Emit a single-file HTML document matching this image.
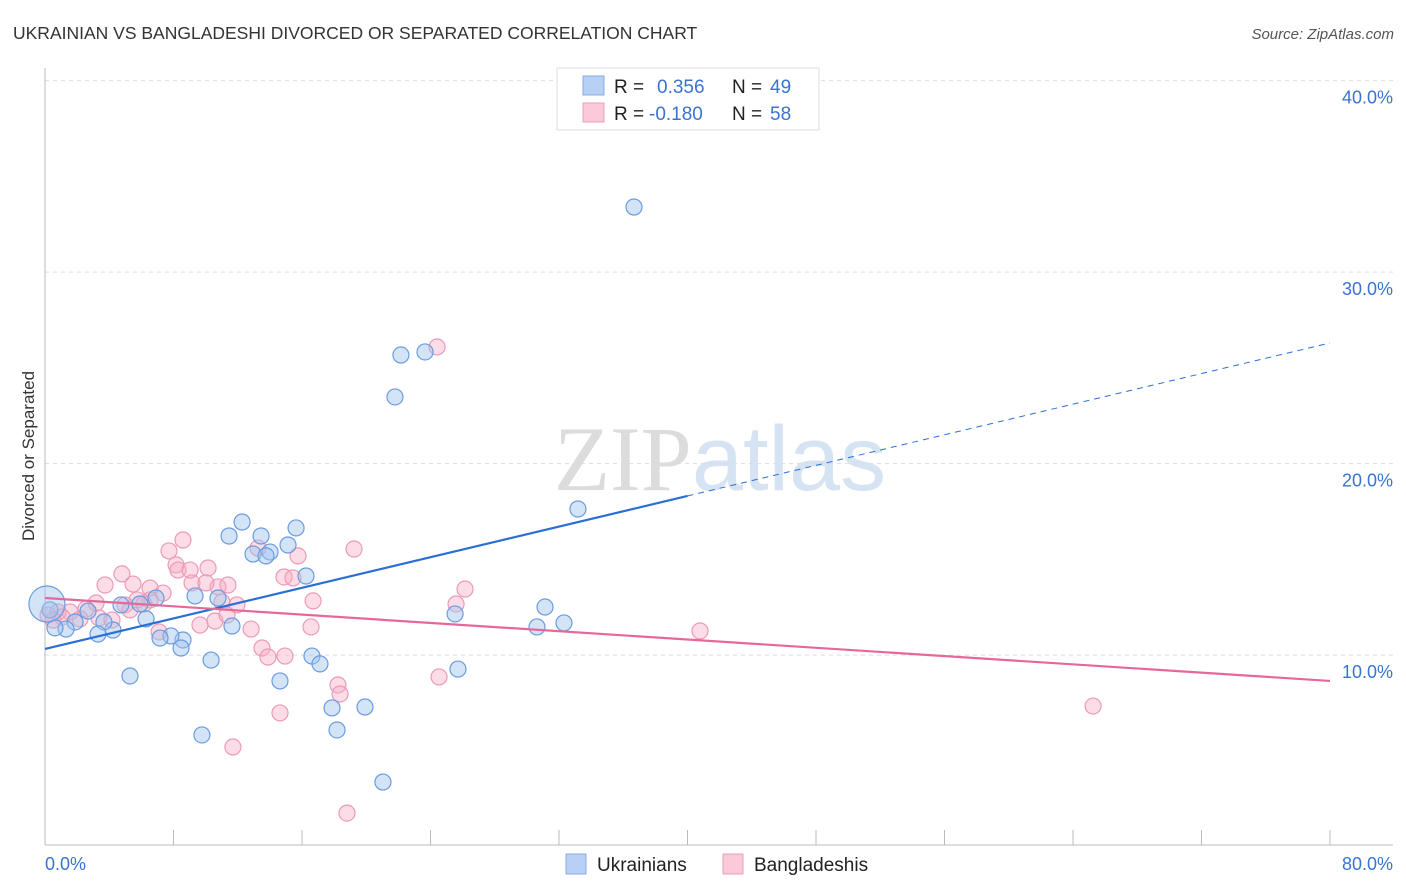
<!DOCTYPE html>
<html><head><meta charset="utf-8"><style>
body{margin:0;background:#fff;font-family:"Liberation Sans",sans-serif}
svg{display:block}
</style></head><body>
<svg id="chart" width="1406" height="892" viewBox="0 0 1406 892" xmlns="http://www.w3.org/2000/svg" font-family="Liberation Sans, sans-serif">
<text x="13" y="39" font-size="17.5" fill="#333">UKRAINIAN VS BANGLADESHI DIVORCED OR SEPARATED CORRELATION CHART</text>
<text x="1394" y="39" font-size="15" font-style="italic" fill="#555" text-anchor="end">Source: ZipAtlas.com</text>
<text x="720" y="490" font-size="92" text-anchor="middle" fill="#e4e8ee"><tspan font-family="Liberation Serif, serif" fill="#dcdcdc">ZIP</tspan><tspan fill="#d6e3f3">atlas</tspan></text>
<text transform="translate(34,456) rotate(-90)" font-size="17" fill="#333" text-anchor="middle">Divorced or Separated</text>
<g id="grid"></g>
<g id="axes"></g>
<g id="marks"></g>
<g id="trends"></g>
<g>
<rect x="557" y="68" width="262" height="62" fill="#fff" stroke="#ddd"/>
<rect x="583" y="76" width="21" height="19" fill="#b7d0f4" stroke="#86aee6"/>
<rect x="583" y="103" width="21" height="19" fill="#fbc9d8" stroke="#ee9fb9"/>
<text x="614" y="93" font-size="19" fill="#222">R = </text><text x="657" y="93" font-size="19" fill="#3a73d0">0.356</text>
<text x="732" y="93" font-size="19" fill="#222">N = </text><text x="770" y="93" font-size="19" fill="#3a73d0">49</text>
<text x="614" y="120" font-size="19" fill="#222">R = </text><text x="649" y="120" font-size="19" fill="#3a73d0">-0.180</text>
<text x="732" y="120" font-size="19" fill="#222">N = </text><text x="770" y="120" font-size="19" fill="#3a73d0">58</text>
</g>
<g>
<rect x="566" y="854" width="20" height="20" fill="#b7d0f4" stroke="#86aee6"/>
<text x="597" y="871" font-size="19" fill="#222">Ukrainians</text>
<rect x="723" y="854" width="20" height="20" fill="#fbc9d8" stroke="#ee9fb9"/>
<text x="754" y="871" font-size="19" fill="#222">Bangladeshis</text>
</g>
</svg>
<script>
const yTicks=[10,20,30,40];
const yTickLabels=["10.0%","20.0%","30.0%","40.0%"];
const xTicks=[0,8,16,24,32,40,48,56,64,72,80];
const xEndLabels=["0.0%","80.0%"];
const blueX=[36.67,22.16,23.66,21.79,33.18,12.27,15.63,13.45,11.46,15.13,14.01,12.95,13.76,16.25,31.13,32.31,30.63,25.53,25.71,16.62,17.12,14.63,17.87,19.92,18.18,21.04,9.77,10.34,5.29,9.34,10.77,11.64,8.59,8.47,7.84,7.16,6.91,6.29,5.91,4.73,4.23,3.67,3.30,2.68,1.87,1.31,0.62,0.31,0.12];
const blueY=[33.40,25.67,25.83,23.48,17.63,16.95,16.64,16.22,16.22,15.75,15.38,15.28,15.18,14.13,12.51,11.68,11.47,12.15,9.27,9.95,9.54,8.65,7.24,7.29,6.09,3.37,5.83,9.74,8.91,13.09,12.98,11.52,10.79,10.37,11.00,10.89,12.98,11.89,12.67,12.62,11.31,11.73,11.10,12.30,11.73,11.36,11.42,12.36,12.67];
const blueR=[8,8,8,8,8,8,8,8,8,8,8,8,8,8,8,8,8,8,8,8,8,8,8,8,8,8,8,8,8,8,8,8,8,8,8,8,8,8,8,8,8,8,8,8,8,8,8,8,18];
const pinkX=[24.41,8.59,7.72,13.26,15.75,19.24,8.16,10.15,4.79,3.74,5.48,6.54,7.35,9.15,10.77,10.02,14.88,15.44,11.02,11.95,16.69,26.15,25.59,6.54,5.73,4.98,3.18,2.55,2.18,1.56,0.81,0.19,3.36,1.06,4.17,5.29,7.10,9.65,10.58,11.33,12.83,16.56,40.78,13.51,13.88,14.94,24.53,18.24,18.37,14.63,11.70,18.80,65.25,0.50,6.16,8.28,11.39,9.03];
const pinkY=[26.09,16.01,15.44,15.59,15.18,15.54,14.71,14.55,14.24,13.66,13.71,13.50,13.24,13.77,13.56,13.77,14.08,14.03,12.77,12.62,12.83,13.45,12.67,12.88,12.88,12.62,12.72,12.41,11.89,12.25,12.25,12.09,11.94,11.99,11.83,12.36,11.21,11.57,11.78,12.09,11.36,11.47,11.26,10.37,9.90,9.95,8.86,8.44,7.97,6.98,5.20,1.75,7.34,11.83,12.67,14.44,13.66,14.44];
const blueTrend=[10.32,26.30];
const blueSolidEnd=40;
const pinkTrend=[12.98,8.65];

const X0=45,X1=1330,YB=846.6,YS=19.15;
const sx=v=>X0+v*(X1-X0)/80;
const sy=v=>YB-v*YS;
const NS="http://www.w3.org/2000/svg";
function mk(parent,tag,attrs){const e=document.createElementNS(NS,tag);for(const k in attrs)e.setAttribute(k,attrs[k]);document.getElementById(parent).appendChild(e);return e;}

yTicks.forEach((t,i)=>{
  const l=mk('grid','line',{x1:45,x2:1393,y1:sy(t),y2:sy(t),stroke:'#ddd','stroke-dasharray':'4,4'});
  
  
  const tx=mk('grid','text',{x:1393,y:sy(t)+23,'font-size':18,fill:'#3a73d0','text-anchor':'end'});
  
  
  tx.textContent=yTickLabels[i];
});
let a=mk('axes','line',{x1:45,x2:45,y1:68,y2:845,stroke:'#bbb'});


a=mk('axes','line',{x1:45,x2:1393,y1:845,y2:845,stroke:'#bbb'});


xTicks.forEach(t=>{
  const l=mk('axes','line',{x1:sx(t),x2:sx(t),y1:830,y2:845,stroke:'#bbb'});
  
  
});
let t1=mk('axes','text',{x:45,y:870,'font-size':18,fill:'#3a73d0'});


t1.textContent=xEndLabels[0];
let t2=mk('axes','text',{x:1393,y:870,'font-size':18,fill:'#3a73d0','text-anchor':'end'});


t2.textContent=xEndLabels[1];

pinkX.forEach((x,i)=>{
  const c=mk('marks','circle',{cx:sx(x),cy:sy(pinkY[i]),r:8,fill:'rgba(247,170,196,0.4)',stroke:'#ec9ab5','stroke-width':1.2});
  
  
});
blueX.forEach((x,i)=>{
  const c=mk('marks','circle',{cx:sx(x),cy:sy(blueY[i]),r:blueR[i],fill:'rgba(160,195,238,0.45)',stroke:'#6a9be0','stroke-width':1.2});
  
  
});
const bAt=v=>blueTrend[0]+(blueTrend[1]-blueTrend[0])*v/80;
let l=mk('trends','line',{x1:sx(0),y1:sy(bAt(0)),x2:sx(blueSolidEnd),y2:sy(bAt(blueSolidEnd)),stroke:'#2a6fd6','stroke-width':2.2});


l=mk('trends','line',{x1:sx(blueSolidEnd),y1:sy(bAt(blueSolidEnd)),x2:sx(80),y2:sy(bAt(80)),stroke:'#2a6fd6','stroke-width':1,'stroke-dasharray':'6,5'});


l=mk('trends','line',{x1:sx(0),y1:sy(pinkTrend[0]),x2:sx(80),y2:sy(pinkTrend[1]),stroke:'#e5689a','stroke-width':2.2});


</script>
</body></html>
